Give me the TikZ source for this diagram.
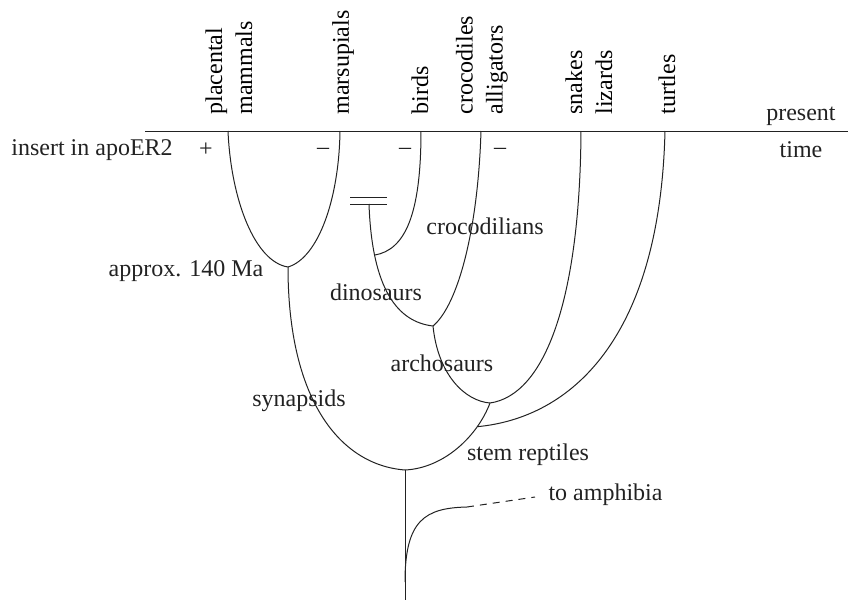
\documentclass[tikz,border=0pt]{standalone}
\usepackage{fontspec}
\setmainfont{Liberation Serif}
\usetikzlibrary{arrows.meta}
\definecolor{cline}{HTML}{222222}
\tikzset{
  every picture/.style={font=\fontsize{12}{15}\selectfont, line width=0.5pt},
  branch/.style={draw=cline},
  taxon/.style={rotate=90, anchor=west, align=left, inner sep=1pt},
  clade/.style={inner sep=1pt, text=cline},
  sign/.style={inner sep=1pt, text=cline},
}
\begin{document}
\begin{tikzpicture}[x=0.5pt, y=-0.5pt]
  \useasboundingbox (0,0) rectangle (848,600);
  % time axis
  \coordinate (axl) at (145,131);
  \coordinate (axr) at (848,131);
  \draw[branch] (axl) -- (axr);
  \node[clade] (present) at (801,116) {present};
  \node[clade] (time) at (801,150) {time};
  % tips and labels
  \coordinate (plac) at (228,131);  \node[taxon] (placlab) at (229,117) {placental\\mammals};
  \coordinate (mars) at (340,131);  \node[taxon] (marslab) at (343,117) {marsupials};
  \coordinate (bird) at (421,131);  \node[taxon] (birdlab) at (420,117) {birds};
  \coordinate (croc) at (481,131);  \node[taxon] (croclab) at (482,117) {crocodiles\\alligators};
  \coordinate (snak) at (581,131);  \node[taxon] (snaklab) at (589,117) {snakes\\lizards};
  \coordinate (turt) at (665,131);  \node[taxon] (turtlab) at (667,117) {turtles};
  \node[clade] (insert) at (92,150) {insert in apoER2};
  \node[sign] (splac) at (206,150) {+};
  \node[sign] (smars) at (323,151) {--};
  \node[sign] (sbird) at (405,151) {--};
  \node[sign] (scroc) at (500,151) {--};
  % junctions
  \coordinate (mamm) at (288,267);
  \coordinate (dbar) at (369,204);
  \coordinate (dino) at (433,326);
  \coordinate (arch) at (490,403);
  \coordinate (root) at (405,470);
  \coordinate (base) at (405,600);
  \coordinate (ab) at (405,582);
  \coordinate (amph) at (467,507);
  \coordinate (amphend) at (535,497);
  \coordinate (barl) at (350,197); \coordinate (barr) at (387,197);
  \coordinate (barl2) at (350,204); \coordinate (barr2) at (387,204);
  \draw[branch] (barl) -- (barr);
  \draw[branch] (barl2) -- (barr2);
  % branches
  \draw[branch] (plac) .. controls (231,200) and (255,262) .. (mamm);
  \draw[branch] (mars) .. controls (339,200) and (318,258) .. (mamm);
  \draw[branch] (dbar) .. controls (372,290) and (398,322) .. coordinate[pos=0.23] (bj) (dino);
  \draw[branch] (bird) .. controls (421,215) and (405,250) .. (bj);
  \draw[branch] (croc) .. controls (478,230) and (458,305) .. (dino);
  \draw[branch] (dino) .. controls (438,375) and (465,401) .. (arch);
  \draw[branch] (snak) .. controls (580,300) and (545,395) .. (arch);
  \draw[branch] (arch) .. controls (478,435) and (445,468) .. coordinate[pos=0.25] (tj) (root);
  \draw[branch] (turt) .. controls (660,340) and (570,418) .. (tj);
  \draw[branch] (mamm) .. controls (288,400) and (340,465) .. (root);
  \draw[branch] (root) -- (base);
  \draw[branch] (ab) .. controls (405,520) and (425,508) .. (amph);
  \draw[branch, dash pattern=on 3.5pt off 3pt] (amph) -- (amphend);
  % clade labels
  \node[clade] (approx) at (186,271) {approx. 140 Ma};
  \node[clade] (crocod) at (485,226) {crocodilians};
  \node[clade] (dinos) at (376,292) {dinosaurs};
  \node[clade] (archos) at (442,363) {archosaurs};
  \node[clade] (synaps) at (299,401) {synapsids};
  \node[clade] (stem) at (528,455) {stem reptiles};
  \node[clade, anchor=west] (toamph) at (546,495) {to amphibia};
\end{tikzpicture}
\end{document}
